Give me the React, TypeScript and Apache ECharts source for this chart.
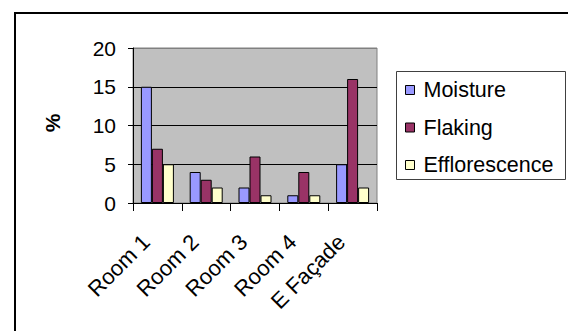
import React, { useEffect, useRef } from "react";
import * as echarts from "echarts";

const categories = ["Room 1", "Room 2", "Room 3", "Room 4", "E Façade"];
const moisture = [15, 4, 2, 1, 5];
const flaking = [7, 3, 6, 4, 16];
const efflorescence = [5, 2, 1, 1, 2];
const seriesNames = ["Moisture", "Flaking", "Efflorescence"];

const FONT = "'Liberation Sans', Arial, sans-serif";

export default function App() {
  const ref = useRef<HTMLDivElement>(null);
  useEffect(() => {
    if (!ref.current) return;
    const chart = echarts.init(ref.current, undefined, { renderer: "svg" });
    const colors = ["#9999FF", "#993366", "#FFFFCC"];
    const datas = [moisture, flaking, efflorescence];
    chart.setOption({
      animation: false,
      backgroundColor: "#FFFFFF",
      textStyle: { fontFamily: FONT },
      graphic: [
        {
          type: "rect",
          shape: { x: 15, y: 13, width: 700, height: 500 },
          style: { fill: "none", stroke: "#000", lineWidth: 2 },
          silent: true,
        },
        {
          type: "rect",
          shape: { x: 396.5, y: 71.5, width: 169, height: 108 },
          style: { fill: "none", stroke: "#404040", lineWidth: 1 },
          silent: true,
        },
        {
          type: "text",
          x: 52,
          y: 123,
          rotation: Math.PI / 2,
          style: {
            text: "%",
            fontSize: 21,
            fontWeight: "bold",
            fontFamily: FONT,
            fill: "#000",
            align: "center",
            verticalAlign: "middle",
          },
        },
      ],
      grid: {
        left: 133,
        top: 48,
        width: 244,
        height: 155,
        show: true,
        backgroundColor: "#C0C0C0",
        borderColor: "#808080",
        borderWidth: 1,
      },
      legend: {
        orient: "vertical",
        left: 396,
        top: 71,
        padding: [8, 10, 3, 9],
        itemWidth: 9,
        itemHeight: 9,
        itemGap: 15.5,
        icon: "rect",
        itemStyle: { borderColor: "#000", borderWidth: 1 },
        textStyle: {
          fontSize: 21.5,
          lineHeight: 22,
          color: "#000",
          fontFamily: FONT,
          padding: [0, 0, 0, 4],
        },
        data: seriesNames,
      },
      xAxis: {
        type: "category",
        data: categories,
        axisLine: { show: true, lineStyle: { color: "#000", width: 1 } },
        axisTick: { show: true, length: 8, lineStyle: { color: "#000" } },
        axisLabel: {
          rotate: 45,
          fontSize: 22,
          color: "#000",
          fontFamily: FONT,
          margin: 24,
          padding: [0, 16, 0, 0],
          interval: 0,
        },
        splitLine: { show: false },
      },
      yAxis: {
        type: "value",
        min: 0,
        max: 20,
        interval: 5,
        axisLine: { show: true, lineStyle: { color: "#000", width: 1 } },
        axisTick: { show: true, length: 5, lineStyle: { color: "#000" } },
        axisLabel: { fontSize: 21, color: "#000", fontFamily: FONT, margin: 17 },
        splitLine: {
          show: true,
          lineStyle: { color: ["#C0C0C0", "#000", "#000", "#000", "#808080"], width: 1 },
        },
      },
      series: datas.map((d, i) => ({
        name: seriesNames[i],
        type: "bar",
        data: d,
        barWidth: 11,
        barGap: "0%",
        itemStyle: { color: colors[i], borderColor: "#000", borderWidth: 1 },
      })),
    });
    return () => chart.dispose();
  }, []);
  return (
    <div
      ref={ref}
      style={{ position: "fixed", left: 0, top: 0, width: 568, height: 331 }}
    />
  );
}
